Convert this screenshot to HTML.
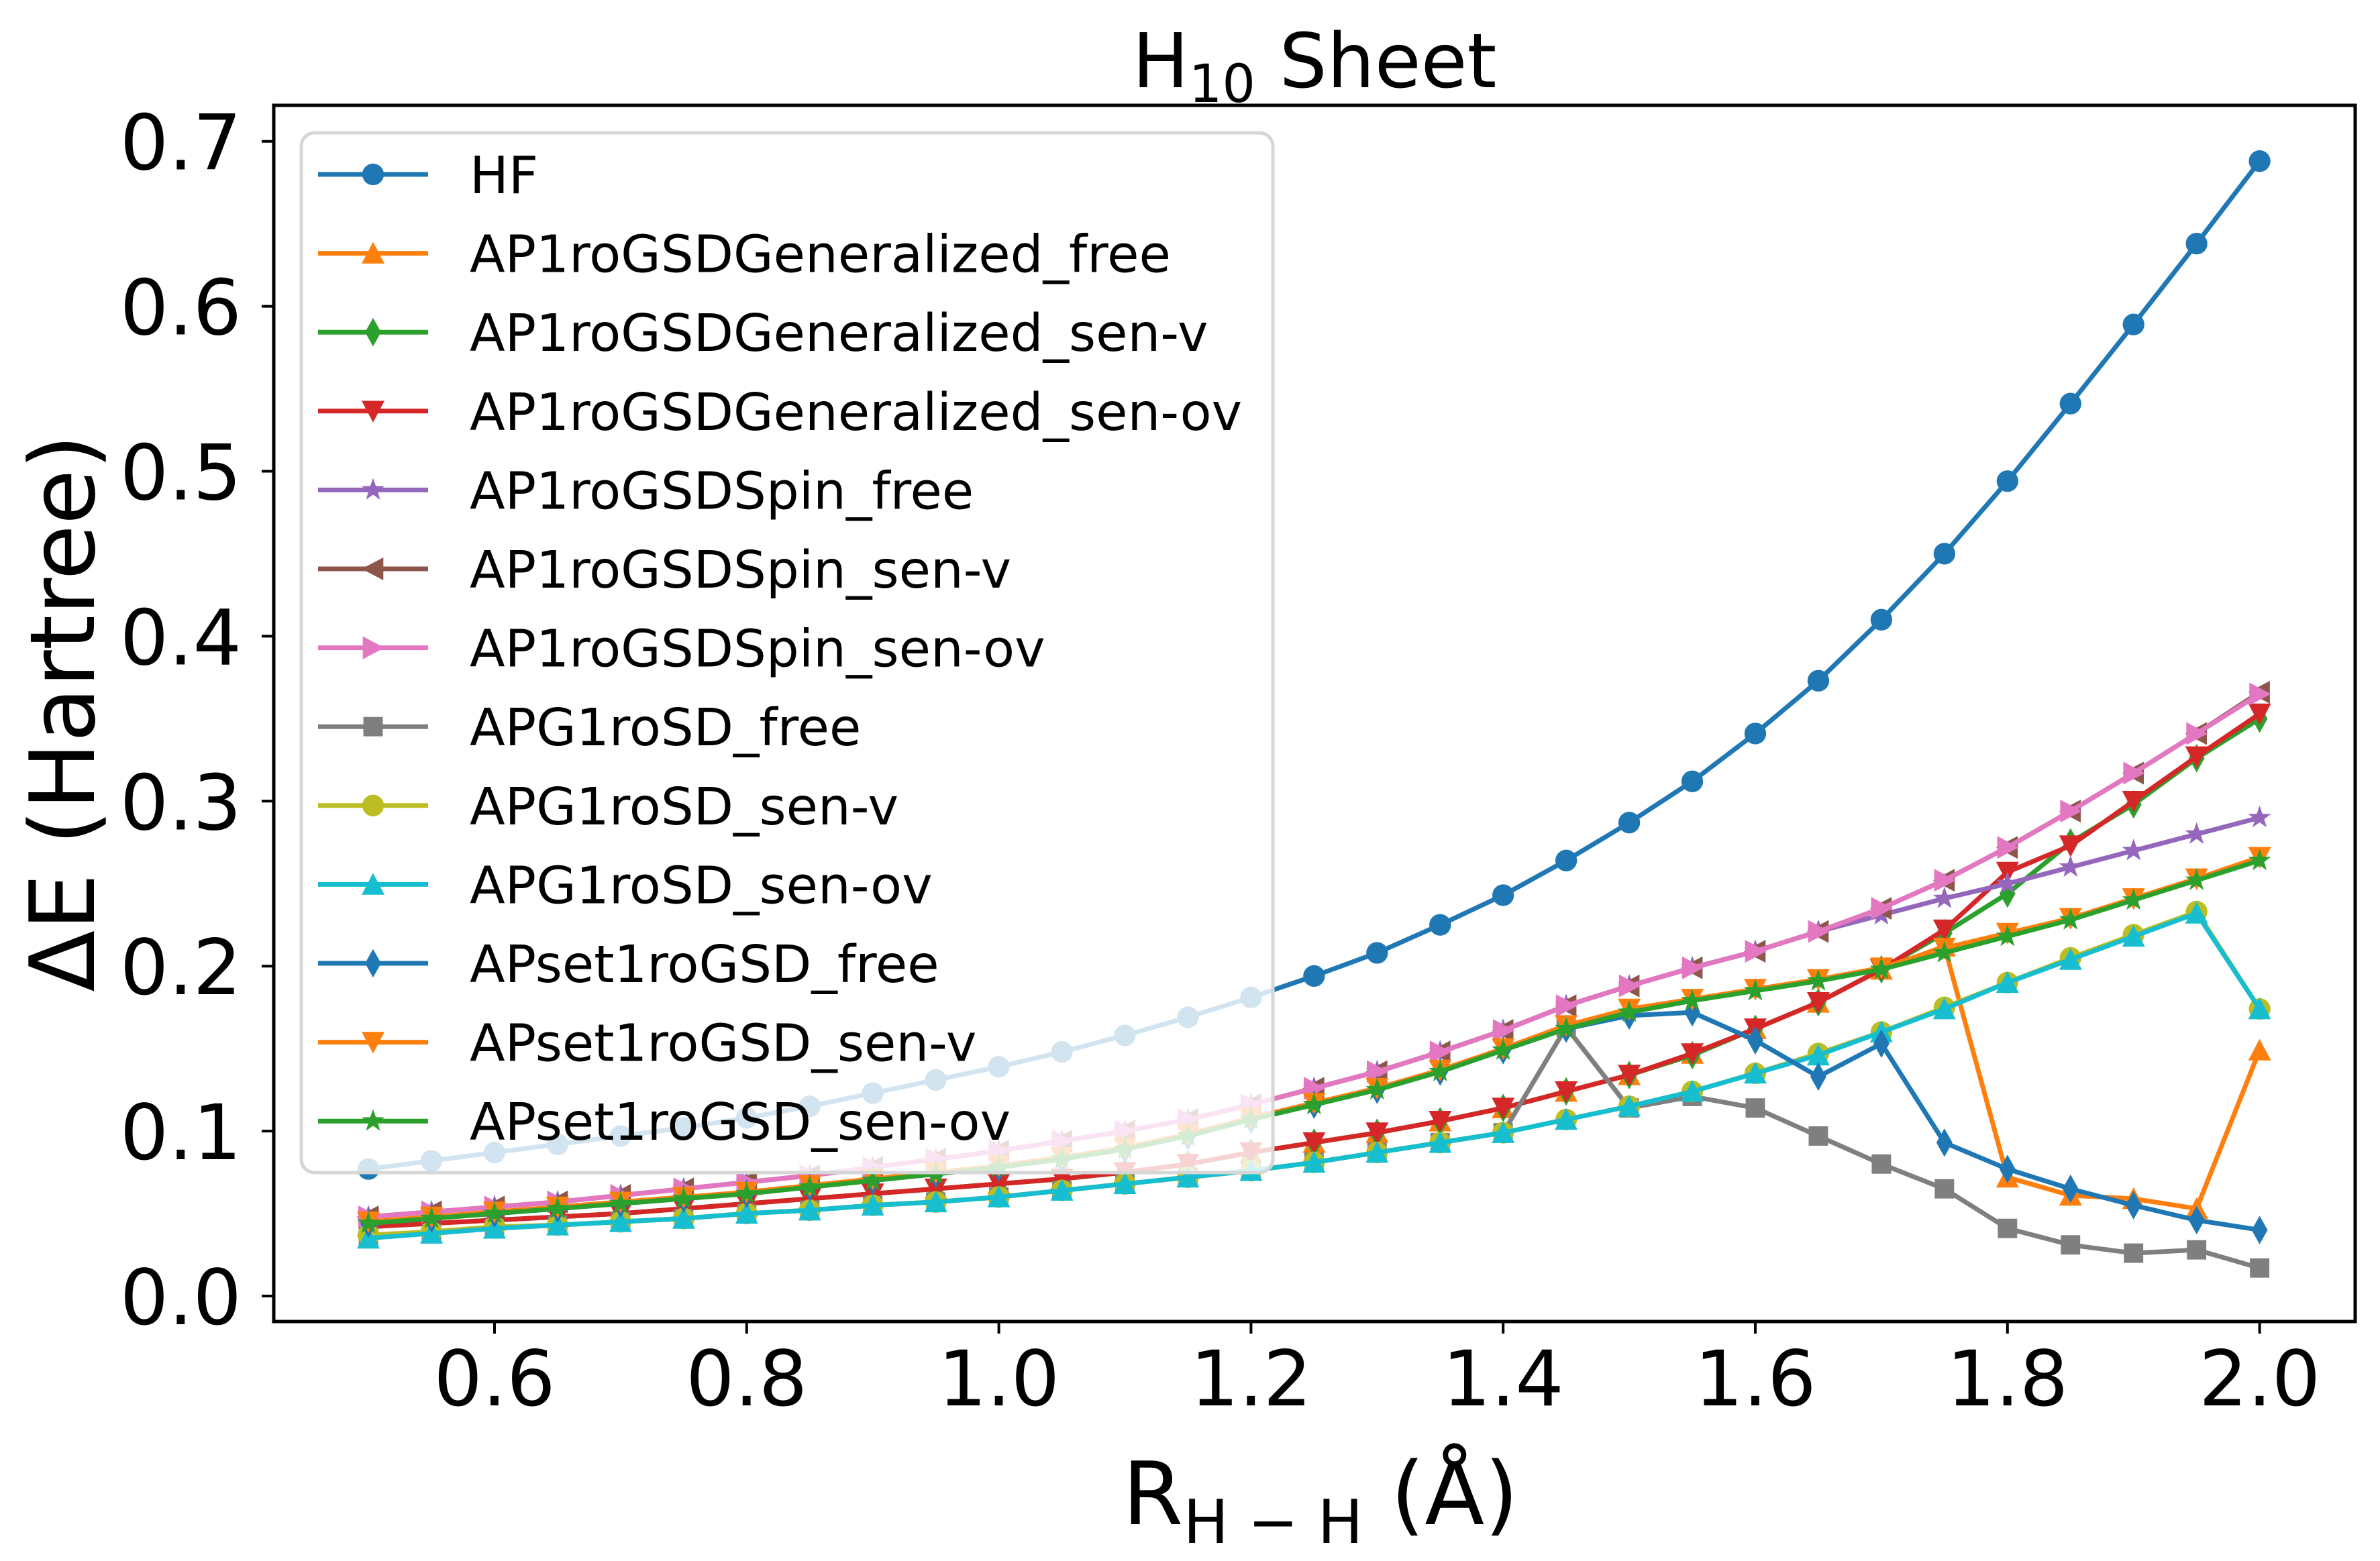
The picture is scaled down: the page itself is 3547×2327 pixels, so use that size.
<!DOCTYPE html>
<html><head><meta charset="utf-8"><style>
html,body{margin:0;padding:0;background:#fff;}
svg{display:block;font-family:"DejaVu Sans","Liberation Sans",sans-serif;}
</style></head><body>
<svg id="chart" width="3547" height="2327" viewBox="0 0 3547 2327" xmlns="http://www.w3.org/2000/svg">
<rect x="0" y="0" width="3547" height="2327" fill="#fff"/>
<text x="1959" y="130" font-size="112" text-anchor="middle">H<tspan font-size="78" dy="22">10</tspan><tspan dy="-22"> Sheet</tspan></text>
<text transform="translate(140,1063) rotate(-90)" font-size="134" text-anchor="middle">ΔE (Hartree)</text>
<text x="1968" y="2272" font-size="130" text-anchor="middle">R<tspan font-size="90" dy="28">H − H</tspan><tspan dy="-28"> (Å)</tspan></text>
<g id="plot"></g>
<g id="axes"></g>
<g id="legend"></g>
</svg>
<script>
const xs = [0.5,0.55,0.6,0.65,0.7,0.75,0.8,0.85,0.9,0.95,1.0,1.05,1.1,1.15,1.2,1.25,1.3,1.35,1.4,1.45,1.5,1.55,1.6,1.65,1.7,1.75,1.8,1.85,1.9,1.95,2.0];
const xTicks = [0.6,0.8,1.0,1.2,1.4,1.6,1.8,2.0];
const xTickLabels = ["0.6","0.8","1.0","1.2","1.4","1.6","1.8","2.0"];
const yTicks = [0,0.1,0.2,0.3,0.4,0.5,0.6,0.7];
const yTickLabels = ["0.0","0.1","0.2","0.3","0.4","0.5","0.6","0.7"];
const seriesNames = ["HF","AP1roGSDGeneralized_free","AP1roGSDGeneralized_sen-v","AP1roGSDGeneralized_sen-ov","AP1roGSDSpin_free","AP1roGSDSpin_sen-v","AP1roGSDSpin_sen-ov","APG1roSD_free","APG1roSD_sen-v","APG1roSD_sen-ov","APset1roGSD_free","APset1roGSD_sen-v","APset1roGSD_sen-ov"];
const hf = [0.077,0.082,0.087,0.092,0.097,0.102,0.108,0.115,0.123,0.131,0.139,0.148,0.158,0.169,0.181,0.194,0.208,0.225,0.243,0.264,0.287,0.312,0.341,0.373,0.410,0.450,0.494,0.541,0.589,0.638,0.688];
const genFree = [0.042,0.044,0.046,0.048,0.050,0.053,0.056,0.059,0.062,0.065,0.068,0.071,0.075,0.080,0.087,0.093,0.099,0.106,0.114,0.124,0.134,0.147,0.162,0.178,0.198,0.212,0.072,0.061,0.059,0.053,0.149];
const genSenV = [0.042,0.044,0.046,0.048,0.050,0.053,0.056,0.059,0.062,0.065,0.068,0.071,0.075,0.080,0.087,0.093,0.099,0.106,0.114,0.124,0.134,0.146,0.162,0.178,0.198,0.220,0.244,0.275,0.298,0.326,0.350];
const genSenOv = [0.042,0.044,0.046,0.048,0.050,0.053,0.056,0.059,0.062,0.065,0.068,0.071,0.075,0.080,0.087,0.093,0.099,0.106,0.114,0.124,0.134,0.147,0.162,0.178,0.198,0.222,0.257,0.273,0.300,0.327,0.353];
const spinFree = [0.048,0.051,0.054,0.057,0.061,0.065,0.069,0.073,0.078,0.083,0.088,0.094,0.100,0.107,0.116,0.126,0.136,0.148,0.161,0.176,0.188,0.199,0.209,0.221,0.231,0.241,0.250,0.260,0.270,0.280,0.290];
const spinSenV = [0.048,0.051,0.054,0.057,0.061,0.065,0.069,0.073,0.078,0.083,0.088,0.094,0.100,0.107,0.116,0.126,0.136,0.148,0.161,0.176,0.188,0.199,0.209,0.221,0.235,0.252,0.272,0.294,0.317,0.341,0.366];
const spinSenOv = [0.048,0.051,0.054,0.057,0.061,0.065,0.069,0.073,0.078,0.083,0.088,0.094,0.100,0.107,0.116,0.126,0.136,0.148,0.161,0.176,0.188,0.199,0.209,0.221,0.235,0.252,0.272,0.294,0.317,0.341,0.365];
const apgFree = [0.036,0.038,0.041,0.043,0.045,0.047,0.050,0.052,0.055,0.057,0.060,0.064,0.068,0.072,0.076,0.081,0.087,0.093,0.099,0.163,0.114,0.121,0.114,0.097,0.080,0.065,0.041,0.031,0.026,0.028,0.017];
const apgSenV = [0.037,0.039,0.042,0.043,0.045,0.047,0.050,0.052,0.055,0.057,0.060,0.064,0.068,0.072,0.076,0.081,0.087,0.093,0.099,0.107,0.115,0.124,0.135,0.147,0.160,0.175,0.190,0.205,0.219,0.233,0.174];
const apgSenOv = [0.035,0.038,0.041,0.043,0.045,0.047,0.050,0.052,0.055,0.057,0.060,0.064,0.068,0.072,0.076,0.081,0.087,0.093,0.099,0.107,0.115,0.124,0.135,0.146,0.160,0.174,0.190,0.204,0.218,0.232,0.174];
const setFree = [0.044,0.047,0.050,0.053,0.056,0.059,0.062,0.066,0.070,0.074,0.078,0.083,0.089,0.097,0.107,0.116,0.125,0.136,0.149,0.162,0.170,0.172,0.155,0.133,0.153,0.093,0.077,0.065,0.055,0.046,0.040];
const setSenV = [0.045,0.048,0.051,0.054,0.057,0.060,0.063,0.067,0.071,0.075,0.079,0.084,0.090,0.098,0.108,0.117,0.126,0.137,0.150,0.164,0.174,0.180,0.186,0.192,0.199,0.211,0.220,0.229,0.241,0.253,0.266];
const setSenOv = [0.044,0.047,0.050,0.053,0.056,0.059,0.062,0.066,0.070,0.074,0.078,0.083,0.089,0.097,0.107,0.116,0.125,0.136,0.149,0.162,0.172,0.179,0.185,0.191,0.198,0.208,0.218,0.228,0.240,0.252,0.264];

const seriesValues = [hf,genFree,genSenV,genSenOv,spinFree,spinSenV,spinSenOv,apgFree,apgSenV,apgSenOv,setFree,setSenV,setSenOv];
const colors = ["#1f77b4","#ff7f0e","#2ca02c","#d62728","#9467bd","#8c564b","#e377c2","#7f7f7f","#bcbd22","#17becf","#1f77b4","#ff7f0e","#2ca02c"];
const markers = ["o","^","d","v","*","<",">","s","o","^","d","v","*"];

const NS = "http://www.w3.org/2000/svg";
const AX = {l:408, r:3510, t:157, b:1970};
function xScale(v){ return 737 + (v-0.6)*1879; }
function yScale(v){ return 1932 - v*2459; }

function mk(tag, attrs){ const e=document.createElementNS(NS,tag); for(const k in attrs) e.setAttribute(k,attrs[k]); return e; }

function markerEl(type, cx, cy, color, s){
  let e;
  const r = s/2;
  if(type==="o"){ e = mk("circle",{cx:cx,cy:cy,r:r*0.95,fill:color}); }
  else if(type==="s"){ e = mk("rect",{x:cx-r*0.85,y:cy-r*0.85,width:r*1.7,height:r*1.7,fill:color}); }
  else {
    let pts;
    if(type==="^") pts=[[0,-r],[r,r*0.9],[-r,r*0.9]];
    else if(type==="v") pts=[[0,r],[r,-r*0.9],[-r,-r*0.9]];
    else if(type==="<") pts=[[-r,0],[r*0.9,-r],[r*0.9,r]];
    else if(type===">") pts=[[r,0],[-r*0.9,-r],[-r*0.9,r]];
    else if(type==="d") pts=[[0,-r*1.25],[r*0.7,0],[0,r*1.25],[-r*0.7,0]];
    else if(type==="*"){ pts=[]; for(let i=0;i<10;i++){ const a=-Math.PI/2+i*Math.PI/5; const rr=(i%2===0)?r*1.05:r*0.42; pts.push([rr*Math.cos(a),rr*Math.sin(a)]); } }
    e = mk("polygon",{points:pts.map(p=>(cx+p[0]).toFixed(1)+","+(cy+p[1]).toFixed(1)).join(" "),fill:color});
  }
  return e;
}

const plot = document.getElementById("plot");
seriesValues.forEach((vals, si) => {
  const g = mk("g",{});
  
  
  const d = vals.map((v,i)=>(i?"L":"M")+xScale(xs[i]).toFixed(1)+" "+yScale(v).toFixed(1)).join(" ");
  const line = mk("path",{d:d,fill:"none",stroke:colors[si],"stroke-width":7,"stroke-linejoin":"round"});
  
  
  g.appendChild(line);
  vals.forEach((v,i)=>{
    const m = markerEl(markers[si], xScale(xs[i]), yScale(v), colors[si], 34);
    
    
    g.appendChild(m);
  });
  plot.appendChild(g);
});

const axes = document.getElementById("axes");
const frame = mk("rect",{x:AX.l,y:AX.t,width:AX.r-AX.l,height:AX.b-AX.t,fill:"none",stroke:"#000","stroke-width":5});


axes.appendChild(frame);
xTicks.forEach((v,i)=>{
  const x = xScale(v);
  const t = mk("line",{x1:x,x2:x,y1:AX.b,y2:AX.b+18,stroke:"#000","stroke-width":4});
  
  
  axes.appendChild(t);
  const lb = mk("text",{x:x,y:2095,"font-size":114,"text-anchor":"middle"});
  lb.textContent = xTickLabels[i];
  
  
  axes.appendChild(lb);
});
yTicks.forEach((v,i)=>{
  const y = yScale(v);
  const t = mk("line",{x1:AX.l-18,x2:AX.l,y1:y,y2:y,stroke:"#000","stroke-width":4});
  
  
  axes.appendChild(t);
  const lb = mk("text",{x:360,y:y+42,"font-size":114,"text-anchor":"end"});
  lb.textContent = yTickLabels[i];
  
  
  axes.appendChild(lb);
});

const leg = document.getElementById("legend");


const box = mk("rect",{x:449,y:198,width:1448,height:1550,rx:20,ry:20,fill:"#fff","fill-opacity":0.8,stroke:"#d6d6d6","stroke-width":5});


leg.appendChild(box);
seriesNames.forEach((n,i)=>{
  const y = 260 + i*117.6;
  const g = mk("g",{});
  
  
  g.appendChild(mk("line",{x1:474,x2:638,y1:y,y2:y,stroke:colors[i],"stroke-width":7}));
  g.appendChild(markerEl(markers[i],556,y,colors[i],34));
  const t = mk("text",{x:700,y:y+28,"font-size":77});
  t.textContent = n;
  g.appendChild(t);
  leg.appendChild(g);
});
</script>
</body></html>
